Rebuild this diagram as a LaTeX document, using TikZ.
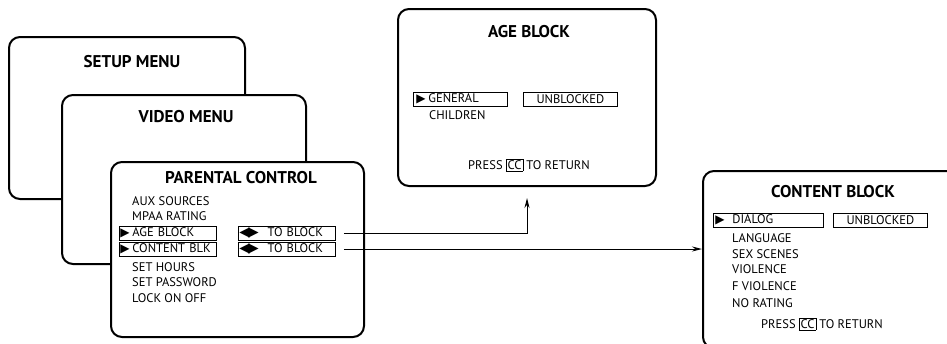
\documentclass[tikz,border=0pt]{standalone}
\usepackage{fontspec}
\setmainfont{PT Sans}
\newfontfamily\symfont{DejaVu Sans}
\usetikzlibrary{arrows.meta}
\newcommand{\selmark}[1][12pt]{\makebox[#1][l]{\symfont\fontsize{12}{12}\selectfont ▶}}
\newcommand{\lrmark}{{\symfont\fontsize{13.5}{12}\selectfont ◀\kern-1.5pt▶}}
\newcommand{\ccbox}{{\setlength{\fboxsep}{1pt}\setlength{\fboxrule}{0.6pt}\fbox{CC}}}

\begin{document}
\begin{tikzpicture}[x=1pt,y=-1pt,
  screen/.style={draw,line width=2pt,rounded corners=11pt,fill=white,
                 anchor=north west,inner sep=0pt},
  title/.style={font=\bfseries\fontsize{17}{20}\selectfont},
  item/.style={font=\fontsize{12.5}{15}\selectfont,anchor=west,inner sep=0pt},
  selbox/.style={draw,line width=0.8pt,font=\fontsize{12.5}{15}\selectfont,
                 anchor=west,inner xsep=1pt,inner ysep=0pt,minimum height=14pt},
  valbox/.style={selbox,align=center,minimum width=94pt},
  flow/.style={-{Stealth[length=10pt,width=5pt]},line width=1pt}]
  \path[use as bounding box,clip] (0,0) rectangle (947,343);

  % menu stack
  \node[screen,minimum width=236pt,minimum height=162pt] (setup) at (8,36) {};
  \node[title] (setupttl) at (132,62) {SETUP MENU};
  \node[screen,minimum width=244pt,minimum height=169pt] (video) at (61,94) {};
  \node[title] (videottl) at (186,117) {VIDEO MENU};
  \node[screen,minimum width=253pt,minimum height=175pt] (parental) at (110,161) {};
  \node[title] (parentalttl) at (241,178) {PARENTAL CONTROL};
  \node[item] (aux) at (132,201) {AUX SOURCES};
  \node[item] (mpaa) at (132,216) {MPAA RATING};
  \node[selbox,text width=95pt] (agesel) at (119,233) {\selmark AGE BLOCK};
  \node[selbox,text width=95pt] (contsel) at (119,249) {\selmark CONTENT BLK};
  \node[selbox,text width=95pt] (toblka) at (238,233) {\lrmark\hspace{9pt}TO BLOCK};
  \node[selbox,text width=95pt] (toblkb) at (238,249) {\lrmark\hspace{9pt}TO BLOCK};
  \node[item] (hours) at (132,267) {SET HOURS};
  \node[item] (passwd) at (132,282) {SET PASSWORD};
  \node[item] (lock) at (132,298) {LOCK ON OFF};

  % age block screen
  \node[screen,minimum width=258pt,minimum height=177pt] (ageblk) at (397,8) {};
  \node[title] (agettl) at (529,32) {AGE BLOCK};
  \node[selbox,text width=92pt] (gensel) at (413,99) {\hspace{2pt}\selmark[12pt]GENERAL};
  \node[valbox] (ageval) at (523,99) {UNBLOCKED};
  \node[item] (children) at (429,115) {CHILDREN};
  \node[item,anchor=center] (agepress) at (529,165) {PRESS \ccbox\ TO RETURN};

  % content block screen, runs off the right and bottom edges
  \node[screen,draw=none,minimum width=300pt,minimum height=175pt] (contentblk) at (703,171) {};
  \draw[line width=2pt,rounded corners=11pt]
    (contentblk.north east) -- (contentblk.north west)
    -- (contentblk.south west) -- (contentblk.south east);
  \node[title] (contentttl) at (833,192) {CONTENT BLOCK};
  \node[selbox,text width=108pt] (dialsel) at (713,220) {\hspace{1pt}\selmark[17pt]DIALOG};
  \node[valbox] (contval) at (833,220) {UNBLOCKED};
  \node[item] (language) at (732,238) {LANGUAGE};
  \node[item] (sex) at (732,254) {SEX SCENES};
  \node[item] (violence) at (732,269) {VIOLENCE};
  \node[item] (fviolence) at (732,286) {F VIOLENCE};
  \node[item] (norating) at (732,303) {NO RATING};
  \node[item,anchor=center] (contpress) at (822,324) {PRESS \ccbox\ TO RETURN};

  \draw[flow] ([xshift=8pt]toblka.east) -| ([yshift=-11pt]ageblk.south);
  \draw[flow,shorten >=1pt] ([xshift=8pt]toblkb.east) -- (toblkb.east -| contentblk.west);
\end{tikzpicture}
\end{document}
